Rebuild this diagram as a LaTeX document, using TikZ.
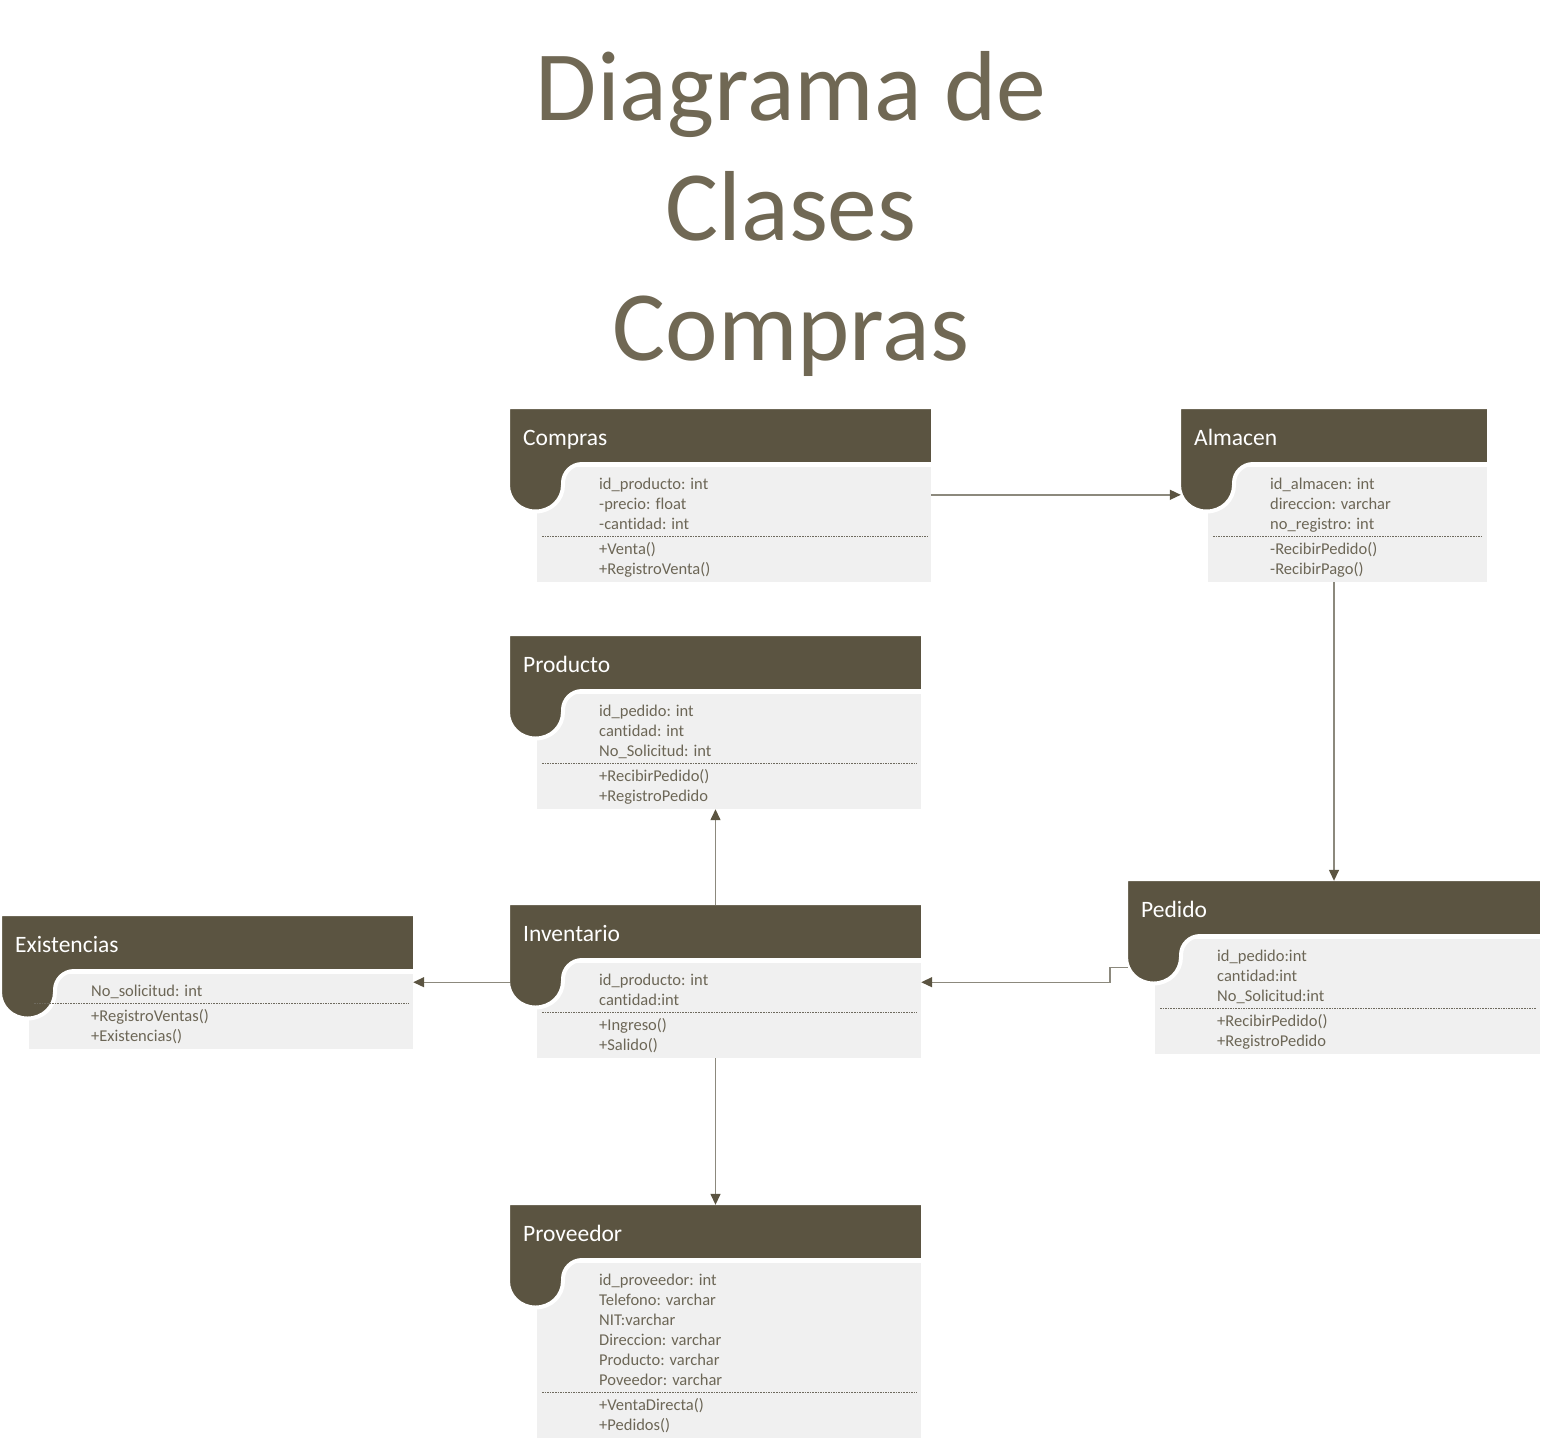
\documentclass[tikz,border=0pt]{standalone}
\usepackage{fontspec}
\setmainfont{Carlito}[Ligatures={NoCommon}]
\usetikzlibrary{arrows.meta,fit,calc}
\definecolor{headc}{RGB}{91,84,65}
\definecolor{titlec}{RGB}{112,104,84}
\definecolor{bodyc}{RGB}{240,240,240}
\definecolor{memc}{RGB}{108,102,86}
\definecolor{sepc}{RGB}{110,106,94}
\definecolor{connc}{RGB}{140,137,125}
\tikzset{
  darkshape/.style={fill=headc, draw=white, line width=4pt, line join=round},
  bodyfill/.style={fill=bodyc},
  headtext/.style={text=white, inner sep=0pt, font=\fontsize{23.5}{26}\selectfont},
  memtext/.style={text=memc, inner sep=0pt, font=\fontsize{16.5}{19}\selectfont},
  titletext/.style={text=titlec, inner sep=0pt, font=\fontsize{99.5}{110}\selectfont},
  sepline/.style={draw=sepc, line width=0.8pt, dash pattern=on 1.6pt off 1pt},
  conn/.style={draw=connc, line width=1.4pt, -{Triangle[length=11pt,width=10pt,color=headc]}},
  boxnode/.style={inner sep=0pt, draw=none}
}
\newcommand{\umlclass}[7]{%
  \foreach \a [count=\i] in {#6} {\xdef\nat{\i}}%
  \pgfmathsetmacro\hb{#3+55}%
  \pgfmathsetmacro\lastb{#3+80+(\nat-1)*20}%
  \pgfmathsetmacro\dashy{\lastb+7}%
  \pgfmathsetmacro\mfirst{\lastb+25}%
  \pgfmathsetmacro\bodyb{\lastb+53}%
  \pgfmathsetmacro\bx{#2+27}%
  \pgfmathsetmacro\tx{#2+89}%
  \fill[bodyfill] (\bx,#3+58) rectangle (#4,\bodyb);
  \node[boxnode, fit={(\bx,#3+58) (#4,\bodyb)}] (#1-b) {};
  \path[darkshape] (#2-2,#3-2) -- (#4+2,#3-2) -- (#4+2,\hb) -- (#2+72,\hb)
     .. controls (#2+61.5,\hb) and (#2+53,\hb+8.5) .. (#2+53,\hb+19)
     -- (#2+53,\hb+21)
     .. controls (#2+53,\hb+35.6) and (#2+41.1,\hb+47.5) .. (#2+25.5,\hb+47.5)
     .. controls (#2+9.9,\hb+47.5) and (#2-2,\hb+35.6) .. (#2-2,\hb+21) -- cycle;
  \node[boxnode, fit={(#2,#3) (#4,\hb)}] (#1-h) {};
  \node[headtext, anchor=base west] at (#2+13,#3+36) {#5};
  \foreach \a [count=\i] in {#6} {\node[memtext, anchor=base west] at (\tx,{#3+80+(\i-1)*20}) {\a};}
  \draw[sepline] (\bx+5,\dashy) -- (#4-4,\dashy);
  \foreach \m [count=\i] in {#7} {\node[memtext, anchor=base west] at (\tx,{\mfirst+(\i-1)*20}) {\m};}
}
\begin{document}
\begin{tikzpicture}[x=1pt,y=-1pt]
\useasboundingbox (0,0) rectangle (1542,1444);
\node[titletext, anchor=base] (t1) at (791,120) {Diagrama de};
\node[titletext, anchor=base] (t2) at (791,240) {Clases};
\node[titletext, anchor=base] (t3) at (791,360) {Compras};

\umlclass{compras}{510}{409}{931}{Compras}{id\_producto: int, -precio: float, -cantidad: int}{+Venta(), +RegistroVenta()}
\umlclass{almacen}{1181}{409}{1487}{Almacen}{id\_almacen: int, direccion: varchar, no\_registro: int}{-RecibirPedido(), -RecibirPago()}
\umlclass{producto}{510}{636}{921}{Producto}{id\_pedido: int, cantidad: int, No\_Solicitud: int}{+RecibirPedido(), +RegistroPedido}
\umlclass{inventario}{510}{905}{921}{Inventario}{id\_producto: int, cantidad:int}{+Ingreso(), +Salido()}
\umlclass{existencias}{2}{916}{413}{Existencias}{No\_solicitud: int}{+RegistroVentas(), +Existencias()}
\umlclass{pedido}{1128}{881}{1540}{Pedido}{id\_pedido:int, cantidad:int, No\_Solicitud:int}{+RecibirPedido(), +RegistroPedido}
\umlclass{proveedor}{510}{1205}{921}{Proveedor}{id\_proveedor: int, Telefono: varchar, NIT:varchar, Direccion: varchar, Producto: varchar, Poveedor: varchar}{+VentaDirecta(), +Pedidos()}

\coordinate (c1) at ([yshift=-28pt]compras-b.north east);
\draw[conn] (c1) -- (c1 -| almacen-h.west);
\draw[conn] (almacen-h.center |- almacen-b.south) -- (pedido-h.north);
\coordinate (p1) at ([yshift=-31pt]pedido-h.south west);
\coordinate (i1) at ([yshift=-22pt]inventario-h.south east);
\coordinate (i2) at ([yshift=-22pt]inventario-h.south west);
\draw[conn] (p1) -- ++(-18,0) |- (i1);
\draw[conn] (i2) -- (i2 -| existencias-b.east);
\draw[conn] (inventario-h.north) -- (producto-h.center |- producto-b.south);
\draw[conn] (inventario-h.center |- inventario-b.south) -- (proveedor-h.north);
\end{tikzpicture}
\end{document}
